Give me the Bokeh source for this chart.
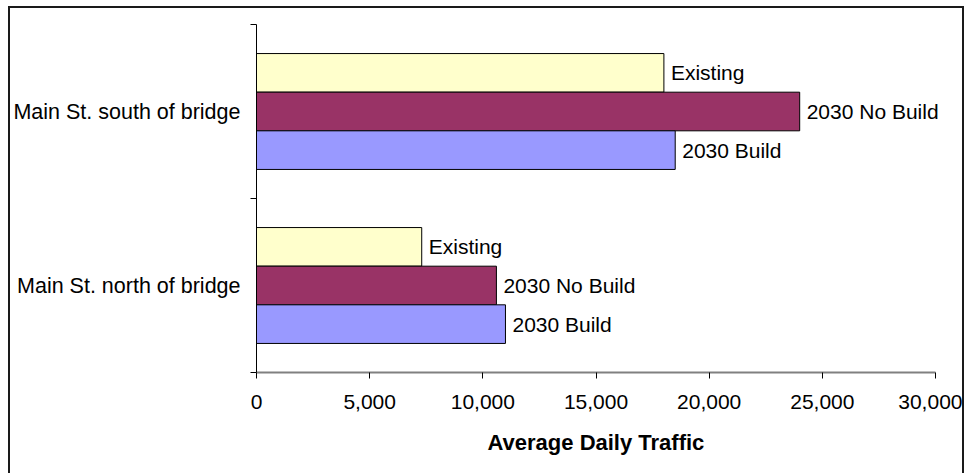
from bokeh.plotting import figure
from bokeh.models import (ColumnDataSource, Range1d, FixedTicker, NumeralTickFormatter,
                          LabelSet, Title)
from bokeh.core.properties import value
from bokeh.embed import file_html
from bokeh.resources import INLINE

categories = ["Main St. north of bridge", "Main St. south of bridge"]
series = ["Existing", "2030 No Build", "2030 Build"]
existing = [7300, 18000]
no_build = [10600, 24000]
build = [11000, 18500]
colors = ["#FFFFCC", "#993366", "#9999FF"]
x_ticks = [0, 5000, 10000, 15000, 20000, 25000, 30000]
x_max = 30000
x_title = "Average Daily Traffic"

FONT = "Liberation Sans"
bar_h = 0.222
offsets = [bar_h, 0.0, -bar_h]

# frame extends a little past the last tick so that bar labels are not clipped
x_end = x_max * (964 - 256) / (935 - 256)

p = figure(width=956, height=467, output_backend="svg", toolbar_location=None,
           x_range=Range1d(0, x_end), y_range=Range1d(0, len(categories)),
           min_border_left=246, min_border_right=2, min_border_top=16,
           min_border_bottom=103)
p.margin = (6, 0, 0, 8)
p.styles = {"border-left": "2px solid #1a1a1a", "border-top": "2px solid #1a1a1a",
            "border-right": "2px solid #1a1a1a"}
p.outline_line_color = None
p.xgrid.visible = False
p.ygrid.visible = False
p.background_fill_color = "white"
p.border_fill_color = "white"

for vals, name, col, off in zip([existing, no_build, build], series, colors, offsets):
    ys = [i + 0.5 + off for i in range(len(categories))]
    src = ColumnDataSource(dict(y=ys, x=vals, name=[name] * len(vals)))
    p.hbar(y="y", right="x", left=0, height=bar_h, source=src,
           fill_color=col, line_color="black", line_width=1)
    p.add_layout(LabelSet(x="x", y="y", text="name", source=src, x_offset=7,
                          text_baseline="middle", text_align="left",
                          text_font=value(FONT), text_font_size=value("21px"),
                          text_color="black"))

# x axis
xa = p.xaxis[0]
xa.ticker = FixedTicker(ticks=x_ticks, minor_ticks=[])
xa.bounds = (0, x_max)
xa.formatter = NumeralTickFormatter(format="0,0")
xa.axis_line_color = "#808080"
xa.axis_line_width = 2
xa.major_tick_line_color = "black"
xa.major_tick_out = 6
xa.major_tick_in = 0
xa.minor_tick_line_color = None
xa.major_label_text_font = FONT
xa.major_label_text_font_size = "21px"
xa.major_label_text_color = "black"
xa.major_label_standoff = 16

# x-axis title, centred under the 0..30,000 span (not the wider frame)
p.add_layout(Title(text=x_title, align="left", offset=231, standoff=32,
                   text_font=FONT, text_font_size="22px", text_font_style="bold",
                   text_color="black"), "below")

# y axis
ya = p.yaxis[0]
ya.ticker = FixedTicker(ticks=[i + 0.5 for i in range(len(categories))],
                        minor_ticks=list(range(len(categories) + 1)))
ya.major_label_overrides = {i + 0.5: c for i, c in enumerate(categories)}
ya.axis_line_color = "black"
ya.axis_line_width = 1
ya.major_tick_line_color = None
ya.major_tick_out = 0
ya.major_tick_in = 0
ya.minor_tick_line_color = "black"
ya.minor_tick_out = 6
ya.minor_tick_in = 0
ya.major_label_text_font = FONT
ya.major_label_text_font_size = "21.5px"
ya.major_label_text_color = "black"
ya.major_label_standoff = 10

open("out.html", "w").write(file_html(p, INLINE))
